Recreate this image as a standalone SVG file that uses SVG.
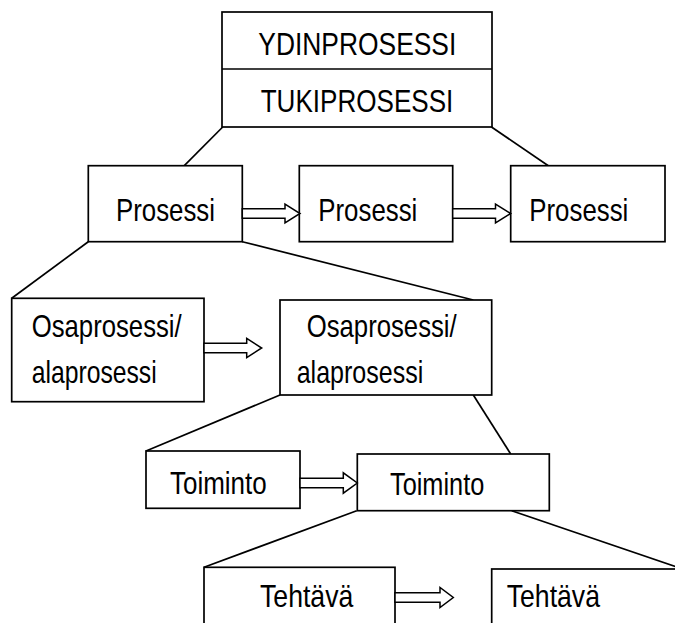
<svg xmlns="http://www.w3.org/2000/svg" width="675" height="623" viewBox="0 0 675 623">
  <style>
    .box { fill: #ffffff; stroke: #000000; stroke-width: 1.7; }
    .link { fill: none; stroke: #000000; stroke-width: 1.7; }
    .flow { fill: #ffffff; stroke: #000000; stroke-width: 1.5; stroke-linejoin: miter; }
    .lbl { font-family: "Liberation Sans", Arial, sans-serif; font-size: 30.5px; fill: #000000; }
  </style>
  <rect width="675" height="623" fill="#ffffff"/>

  <!-- hierarchy connectors -->
  <g id="connectors">
    <line class="link" x1="222.7" y1="127" x2="184.3" y2="165.7"/>
    <line class="link" x1="491.5" y1="127" x2="548.3" y2="165.7"/>
    <line class="link" x1="88.3" y1="241.7" x2="11.7" y2="298.3"/>
    <line class="link" x1="242.3" y1="241.7" x2="473.3" y2="300"/>
    <line class="link" x1="280" y1="395" x2="146" y2="451"/>
    <line class="link" x1="473.3" y1="395" x2="510.7" y2="454"/>
    <line class="link" x1="356.7" y1="510.7" x2="204" y2="567.3"/>
    <line class="link" x1="511.7" y1="510.7" x2="680" y2="568"/>
  </g>

  <!-- core / support process header -->
  <g id="process-header">
    <rect class="box" x="222" y="12" width="270" height="115"/>
    <line class="link" x1="222" y1="69" x2="492" y2="69"/>
    <text class="lbl" x="258.3" y="55" textLength="198" lengthAdjust="spacingAndGlyphs">YDINPROSESSI</text>
    <text class="lbl" x="260.7" y="111.7" textLength="192.6" lengthAdjust="spacingAndGlyphs">TUKIPROSESSI</text>
  </g>

  <g id="prosessi-1">
    <rect class="box" x="88.3" y="165.7" width="154" height="76"/>
    <text class="lbl" x="116" y="221" textLength="99" lengthAdjust="spacingAndGlyphs">Prosessi</text>
  </g>
  <g id="prosessi-2">
    <rect class="box" x="299.3" y="165.7" width="153.4" height="76"/>
    <text class="lbl" x="318.3" y="221" textLength="99" lengthAdjust="spacingAndGlyphs">Prosessi</text>
  </g>
  <g id="prosessi-3">
    <rect class="box" x="510.7" y="165.7" width="154.3" height="76"/>
    <text class="lbl" x="529.3" y="221" textLength="99" lengthAdjust="spacingAndGlyphs">Prosessi</text>
  </g>

  <g id="osaprosessi-1">
    <rect class="box" x="11.7" y="298.3" width="192.3" height="103.4"/>
    <text class="lbl" x="31.7" y="336.7" textLength="150" lengthAdjust="spacingAndGlyphs">Osaprosessi/</text>
    <text class="lbl" x="31.7" y="383.3" textLength="125" lengthAdjust="spacingAndGlyphs">alaprosessi</text>
  </g>
  <g id="osaprosessi-2">
    <rect class="box" x="280" y="300" width="211.7" height="95"/>
    <text class="lbl" x="306.7" y="336.7" textLength="150" lengthAdjust="spacingAndGlyphs">Osaprosessi/</text>
    <text class="lbl" x="296.7" y="383.3" textLength="126.6" lengthAdjust="spacingAndGlyphs">alaprosessi</text>
  </g>

  <g id="toiminto-1">
    <rect class="box" x="146" y="451" width="154" height="57.3"/>
    <text class="lbl" x="170" y="494" textLength="96.7" lengthAdjust="spacingAndGlyphs">Toiminto</text>
  </g>
  <g id="toiminto-2">
    <rect class="box" x="357.3" y="454" width="192" height="56.7"/>
    <text class="lbl" x="390" y="495" textLength="94.3" lengthAdjust="spacingAndGlyphs">Toiminto</text>
  </g>

  <g id="tehtava-1">
    <rect class="box" x="204" y="567.3" width="191" height="70"/>
    <text class="lbl" x="260" y="606.7" textLength="93.3" lengthAdjust="spacingAndGlyphs">Tehtävä</text>
  </g>
  <g id="tehtava-2">
    <rect class="box" x="491.7" y="569" width="200" height="70"/>
    <text class="lbl" x="506.7" y="606.7" textLength="93.3" lengthAdjust="spacingAndGlyphs">Tehtävä</text>
  </g>

  <!-- sequence arrows (hollow block arrows) -->
  <g id="flow-arrows">
    <polygon class="flow" points="242.3,208.8 285,208.8 285,204 300,213.5 285,223 285,218.2 242.3,218.2"/>
    <polygon class="flow" points="452.7,208.8 495.5,208.8 495.5,204 510.7,213.5 495.5,223 495.5,218.2 452.7,218.2"/>
    <polygon class="flow" points="204,343.3 246.7,343.3 246.7,338.3 261.7,348 246.7,357.7 246.7,352.7 204,352.7"/>
    <polygon class="flow" points="300,478.3 343.3,478.3 343.3,472.8 357.3,483 343.3,493.2 343.3,487.7 300,487.7"/>
    <polygon class="flow" points="395,592.8 440,592.8 440,587.5 453.3,597.5 440,607.5 440,602.2 395,602.2"/>
  </g>
</svg>
